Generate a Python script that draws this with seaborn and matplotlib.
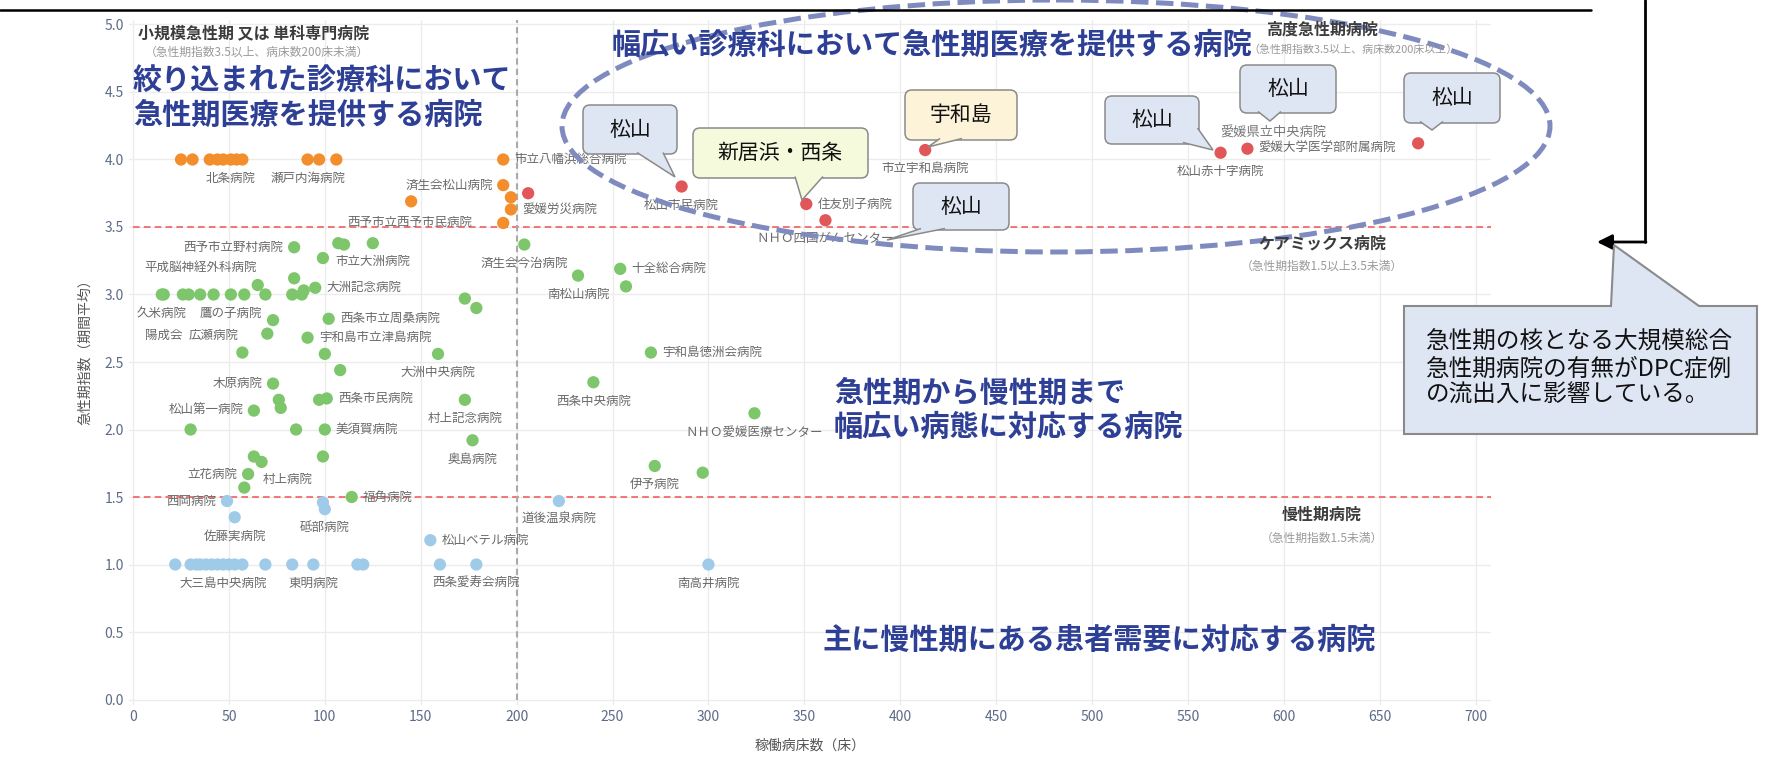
import matplotlib.pyplot as plt
import matplotlib.patches as mpatches
import numpy as np
import pandas as pd
import seaborn as sns

# --- data: beds (x), acute index (y), hospital name ---
small_beds = [25, 31, 40, 44, 47, 51, 54, 57, 91, 97, 106, 145, 193, 193, 197, 197, 193]
small_index = [4.0, 4.0, 4.0, 4.0, 4.0, 4.0, 4.0, 4.0, 4.0, 4.0, 4.0, 3.69, 4.0, 3.81, 3.72, 3.63, 3.53]
small_names = ["", "", "", "", "", "北条病院", "", "", "瀬戸内海病院", "", "", "",
               "市立八幡浜総合病院", "済生会松山病院", "", "愛媛労災病院", "西予市立西予市民病院"]

high_beds = [206, 286, 351, 361, 413, 567, 581, 670]
high_index = [3.75, 3.80, 3.67, 3.55, 4.07, 4.05, 4.08, 4.12]
high_names = ["", "松山市民病院", "住友別子病院", "ＮＨＯ四国がんセンター", "市立宇和島病院",
              "松山赤十字病院", "愛媛大学医学部附属病院", ""]

mix_beds = [84, 107, 110, 125, 204, 99, 15, 16, 26, 29, 35, 42, 51, 58, 69, 65, 83, 84, 88, 89,
            95, 173, 179, 73, 102, 70, 91, 57, 100, 159, 108, 73, 76, 77, 97, 101, 173, 63, 30, 85,
            100, 177, 63, 67, 99, 60, 58, 114, 232, 254, 257, 270, 240, 324, 272, 297]
mix_index = [3.35, 3.38, 3.37, 3.38, 3.37, 3.27, 3.00, 3.00, 3.00, 3.00, 3.00, 3.00, 3.00, 3.00,
             3.00, 3.07, 3.00, 3.12, 3.00, 3.03, 3.05, 2.97, 2.90, 2.81, 2.82, 2.71, 2.68, 2.57,
             2.56, 2.56, 2.44, 2.34, 2.22, 2.16, 2.22, 2.23, 2.22, 2.14, 2.00, 2.00, 2.00, 1.92,
             1.80, 1.76, 1.80, 1.67, 1.57, 1.50, 3.14, 3.19, 3.06, 2.57, 2.35, 2.12, 1.73, 1.68]
mix_names = ["西予市立野村病院", "", "", "市立大洲病院", "済生会今治病院", "", "久米病院", "陽成会",
             "", "", "平成脳神経外科病院", "広瀬病院", "鷹の子病院", "", "", "", "", "", "", "",
             "大洲記念病院", "", "", "", "西条市立周桑病院", "", "宇和島市立津島病院", "", "",
             "大洲中央病院", "", "木原病院", "", "", "", "西条市民病院", "村上記念病院", "松山第一病院",
             "", "", "美須賀病院", "奥島病院", "", "村上病院", "", "立花病院", "", "福角病院",
             "南松山病院", "十全総合病院", "", "宇和島徳洲会病院", "西条中央病院",
             "ＮＨＯ愛媛医療センター", "伊予病院", ""]

chronic_beds = [49, 53, 99, 100, 155, 222, 22, 30, 33, 35, 38, 41, 44, 47, 50, 53, 57, 69, 83,
                94, 117, 120, 160, 179, 300]
chronic_index = [1.47, 1.35, 1.46, 1.41, 1.18, 1.47, 1.0, 1.0, 1.0, 1.0, 1.0, 1.0, 1.0, 1.0, 1.0,
                 1.0, 1.0, 1.0, 1.0, 1.0, 1.0, 1.0, 1.0, 1.0, 1.0]
chronic_names = ["西岡病院", "佐藤実病院", "", "砥部病院", "松山ベテル病院", "道後温泉病院", "", "",
                 "", "", "", "", "", "大三島中央病院", "", "", "", "", "", "東明病院", "", "",
                 "", "西条愛寿会病院", "南高井病院"]

x_ticks = [0, 50, 100, 150, 200, 250, 300, 350, 400, 450, 500, 550, 600, 650, 700]
y_ticks = [0.0, 0.5, 1.0, 1.5, 2.0, 2.5, 3.0, 3.5, 4.0, 4.5, 5.0]

# where each hospital name sits relative to its dot
LABEL_POS = {
    "北条病院": "b", "瀬戸内海病院": "b", "市立八幡浜総合病院": "r", "済生会松山病院": "l",
    "愛媛労災病院": "r", "西予市立西予市民病院": "l2", "松山市民病院": "b", "住友別子病院": "r",
    "ＮＨＯ四国がんセンター": "b", "市立宇和島病院": "b", "松山赤十字病院": "b",
    "愛媛大学医学部附属病院": "r", "西予市立野村病院": "l", "市立大洲病院": "b",
    "済生会今治病院": "b", "久米病院": "b", "陽成会": "b2", "平成脳神経外科病院": "t",
    "広瀬病院": "b2", "鷹の子病院": "b", "大洲記念病院": "r", "西条市立周桑病院": "r",
    "宇和島市立津島病院": "r", "大洲中央病院": "b", "木原病院": "l", "西条市民病院": "r",
    "村上記念病院": "b", "松山第一病院": "l", "美須賀病院": "r", "奥島病院": "b", "村上病院": "br",
    "立花病院": "l", "福角病院": "r", "南松山病院": "b", "十全総合病院": "r",
    "宇和島徳洲会病院": "r", "西条中央病院": "b", "ＮＨＯ愛媛医療センター": "b", "伊予病院": "b",
    "西岡病院": "l", "佐藤実病院": "b", "砥部病院": "b", "松山ベテル病院": "r",
    "道後温泉病院": "b", "大三島中央病院": "b", "東明病院": "b", "西条愛寿会病院": "b",
    "南高井病院": "b",
}
OFFSETS = {"b": (0, -13.5, "center"), "b2": (0, -29.5, "center"), "t": (0, 19.5, "center"),
           "r": (8.0, 0, "left"), "l": (-7.5, 0, "right"), "l2": (-22, 0, "right"),
           "br": (18.5, -12.5, "center")}

groups = {"小規模急性期": (small_beds, small_index, small_names),
          "高度急性期": (high_beds, high_index, high_names),
          "ケアミックス": (mix_beds, mix_index, mix_names),
          "慢性期": (chronic_beds, chronic_index, chronic_names)}
palette = {"小規模急性期": "#F28E2B", "高度急性期": "#E15759",
           "ケアミックス": "#7DC66B", "慢性期": "#A0CBE8"}

rows = []
for g, (bx, iy, nm) in groups.items():
    for b, i, n in zip(bx, iy, nm):
        rows.append({"beds": b, "index": i, "name": n, "group": g})
df = pd.DataFrame(rows)

sns.set_style("white")
plt.rcParams['font.family'] = ['Noto Sans CJK JP', 'DejaVu Sans']

fig = plt.figure(figsize=(17.68, 7.65), dpi=100)
ax = fig.add_axes([0.07308, 0.07856, 0.77025, 0.89471])

sns.scatterplot(data=df, x="beds", y="index", hue="group", palette=palette, s=78,
                linewidth=0, legend=False, ax=ax, zorder=3)

ax.set_xlim(-2, 708)
ax.set_ylim(-0.04, 5.03)
ax.set_xticks(x_ticks)
ax.set_yticks(y_ticks)
ax.set_yticklabels([f"{v:.1f}" for v in y_ticks])
ax.grid(True, color="#ececec", lw=1)
ax.set_axisbelow(True)
for s in ax.spines.values():
    s.set_visible(False)
ax.tick_params(length=0, labelsize=10, labelcolor="#5d6b87", pad=4)
ax.set_xlabel("稼働病床数（床）", fontsize=10, color="#555555", labelpad=10)
ax.set_ylabel("急性期指数（期間平均）", fontsize=10, color="#555555")
ax.yaxis.set_label_coords(-0.027, 0.52)

# threshold lines
ax.plot([0, 708], [3.5, 3.5], color="#f06060", lw=1.2, ls=(0, (4, 2.5)), zorder=2)
ax.plot([0, 708], [1.5, 1.5], color="#f06060", lw=1.2, ls=(0, (4, 2.5)), zorder=2)
ax.plot([200, 200], [0, 5.03], color="#aaaaaa", lw=1.5, ls=(0, (3, 2)), zorder=2)

for _, r in df[df["name"] != ""].iterrows():
    dx, dy, ha = OFFSETS[LABEL_POS[r["name"]]]
    ax.annotate(r["name"], (r["beds"], r["index"]), xytext=(dx, dy), textcoords="offset points",
                ha=ha, va="center", fontsize=9, color="#6a6a6a", zorder=4)

# --- overlay in pixel space for the slide annotations ---
ov = fig.add_axes([0, 0, 1, 1], zorder=5)
ov.set_xlim(0, 1768)
ov.set_ylim(765, 0)
ov.axis("off")
ov.patch.set_alpha(0)

blue = "#2E3F96"
cat = "#3c3c3c"
sub = "#9a9a9a"
ov.text(138, 33, "小規模急性期 又は 単科専門病院", fontsize=11.5, weight="bold", color=cat, va="center")
ov.text(145, 52, "（急性期指数3.5以上、病床数200床未満）", fontsize=8.5, color=sub, va="center")
ov.text(1322, 30, "高度急性期病院", fontsize=11.5, weight="bold", color=cat, ha="center", va="center")
ov.text(1353, 50, "（急性期指数3.5以上、病床数200床以上）", fontsize=7.9, color=sub, ha="center", va="center")
ov.text(1322, 244, "ケアミックス病院", fontsize=11.5, weight="bold", color=cat, ha="center", va="center")
ov.text(1322, 266, "（急性期指数1.5以上3.5未満）", fontsize=8.5, color=sub, ha="center", va="center")
ov.text(1322, 515, "慢性期病院", fontsize=11.5, weight="bold", color=cat, ha="center", va="center")
ov.text(1322, 538, "（急性期指数1.5未満）", fontsize=8.5, color=sub, ha="center", va="center")
ov.text(1273, 133, "愛媛県立中央病院", fontsize=9.5, color="#777777", ha="center", va="center")

ov.add_patch(mpatches.Ellipse((1056, 126), 988, 252, fill=False, ec="#7f8bbf", lw=3.6,
                              ls=(0, (3.5, 1.5))))

ov.text(133, 97, "絞り込まれた診療科において\n急性期医療を提供する病院", fontsize=21,
        weight="bold", color=blue, va="center", linespacing=1.2)
ov.text(612, 45, "幅広い診療科において急性期医療を提供する病院", fontsize=21,
        weight="bold", color=blue, va="center", zorder=4)
ov.text(834, 410, "急性期から慢性期まで\n幅広い病態に対応する病院", fontsize=21,
        weight="bold", color=blue, va="center", linespacing=1.2)
ov.text(823, 640, "主に慢性期にある患者需要に対応する病院", fontsize=21,
        weight="bold", color=blue, va="center")


def bubble(box, base, tip, text, fc):
    x0, y0, x1, y1 = box
    ov.add_patch(mpatches.FancyBboxPatch((x0, y0), x1 - x0, y1 - y0,
                                         boxstyle="round,pad=0,rounding_size=7",
                                         fc=fc, ec="#8a8a8a", lw=1.1, zorder=6))
    ov.add_patch(mpatches.Polygon([base[0], tip, base[1]], closed=False, fc=fc,
                                  ec="#8a8a8a", lw=1.1, zorder=7))
    ov.text((x0 + x1) / 2, (y0 + y1) / 2, text, fontsize=15, color="#111111",
            ha="center", va="center", zorder=8)


lb = "#dfe6f3"
bubble((583, 105, 677, 154), [(637, 152.5), (663, 152.5)], (675, 177), "松山", lb)
bubble((693, 128, 868, 178), [(795, 176.5), (823, 176.5)], (802, 200), "新居浜・西条", "#f4fadb")
bubble((905, 90, 1017, 140), [(940, 138.5), (962, 138.5)], (928, 147), "宇和島", "#fdf3d8")
bubble((913, 183, 1009, 230), [(921, 228.5), (945, 228.5)], (887, 240), "松山", lb)
bubble((1105, 96, 1199, 144), [(1183, 142.5), (1197.5, 128)], (1213, 150), "松山", lb)
bubble((1240, 65, 1336, 113), [(1258, 111.5), (1281, 111.5)], (1270, 121), "松山", lb)
bubble((1404, 73, 1500, 123), [(1420, 121.5), (1443, 121.5)], (1432, 130), "松山", lb)

# frame lines and the big callout on the right
ov.plot([0, 1591], [10, 10], color="black", lw=1.8)
ov.plot([1645, 1645], [0, 242], color="black", lw=2)
ov.annotate("", xy=(1597, 242), xytext=(1646, 242),
            arrowprops=dict(arrowstyle="-|>,head_length=0.9,head_width=0.45", color="black",
                            lw=2, shrinkA=0, shrinkB=0))
ov.add_patch(mpatches.Polygon([(1404, 306), (1611, 306), (1614, 245), (1699, 306), (1757, 306),
                               (1757, 434), (1404, 434)], closed=True, fc="#dfe6f3",
                              ec="#8a8a8a", lw=1.5, zorder=6))
ov.text(1426, 369, "急性期の核となる大規模総合\n急性期病院の有無がDPC症例\nの流出入に影響している。",
        fontsize=17, color="#111111", va="center", linespacing=1.2, zorder=8)

fig.savefig("out.png", dpi=100)
